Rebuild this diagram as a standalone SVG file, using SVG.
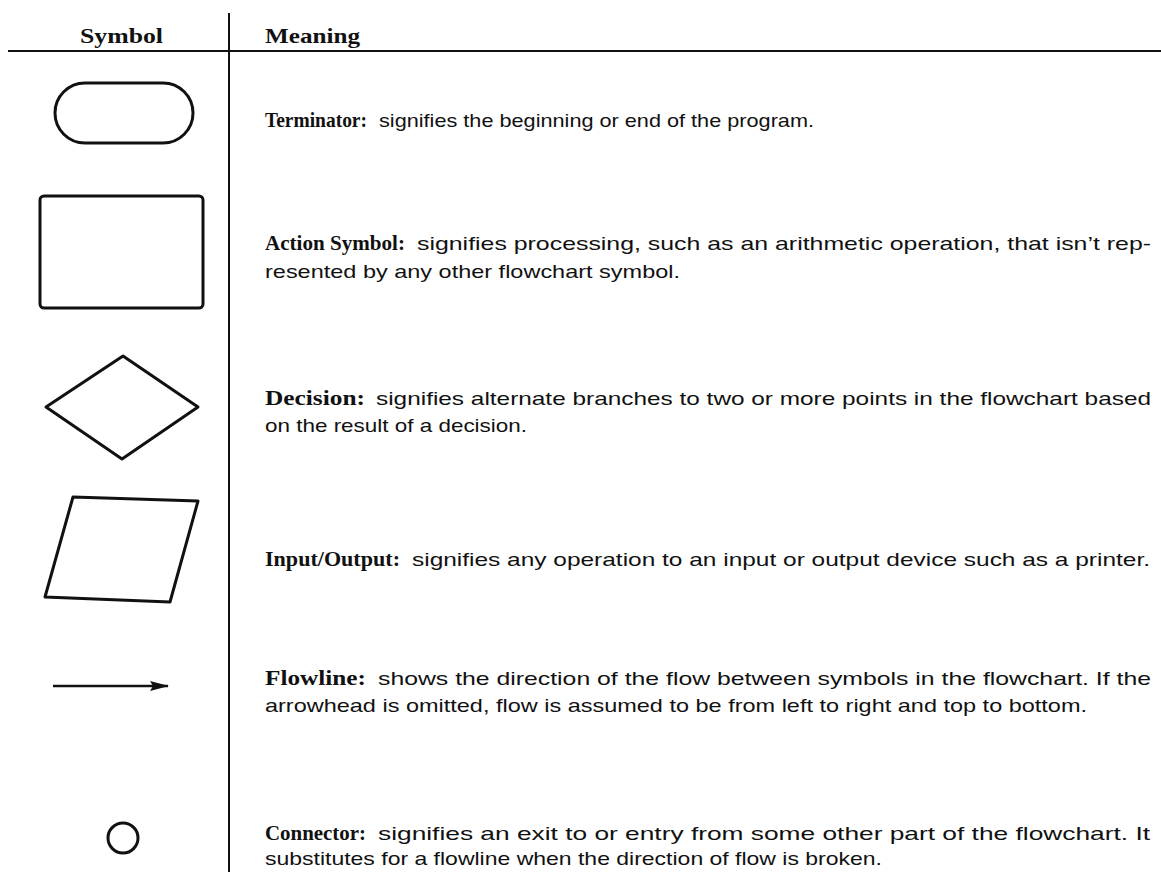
<svg xmlns="http://www.w3.org/2000/svg" width="1161" height="872" viewBox="0 0 1161 872">
  <style>
    .rule { stroke: #111; stroke-width: 2; fill: none; }
    .flow { stroke: #111; stroke-width: 2.5; fill: none; }
    .shape { stroke: #111; stroke-width: 3; fill: none; stroke-linejoin: round; }
    .head { font-family: "Liberation Serif", serif; font-weight: bold; font-size: 22px; fill: #111; }
    .label { font-family: "Liberation Serif", serif; font-weight: bold; font-size: 22px; fill: #111; }
    .body { font-family: "Liberation Sans", Arial, sans-serif; font-size: 19px; fill: #111; }
  </style>
  <defs>
    <marker id="arrowhead" viewBox="0 0 19 11" refX="18" refY="5.5" markerWidth="19" markerHeight="11" markerUnits="userSpaceOnUse" orient="auto">
      <path d="M0,0.5 L19,5.5 L0,10.5 L3,5.5 Z" fill="#111"/>
    </marker>
  </defs>
  <rect width="1161" height="872" fill="#fff"/>

  <!-- table rules and column headings -->
  <g id="table">
    <line class="rule" x1="8" y1="51" x2="1161" y2="51"/>
    <line class="rule" x1="229" y1="13" x2="229" y2="872"/>
    <text class="head" x="80" y="43" textLength="83" lengthAdjust="spacingAndGlyphs">Symbol</text>
    <text class="head" x="265" y="43" textLength="95" lengthAdjust="spacingAndGlyphs">Meaning</text>
  </g>

  <!-- terminator -->
  <g id="terminator">
    <rect class="shape" x="55" y="83" width="138" height="60" rx="30" ry="30"/>
    <text class="label" x="265" y="127" textLength="102" lengthAdjust="spacingAndGlyphs">Terminator:</text>
    <text class="body" x="379" y="127" textLength="435" lengthAdjust="spacingAndGlyphs">signifies the beginning or end of the program.</text>
  </g>

  <!-- action symbol -->
  <g id="action">
    <rect class="shape" x="40" y="196" width="163" height="112" rx="4" ry="4"/>
    <text class="label" x="265" y="250" textLength="140" lengthAdjust="spacingAndGlyphs">Action Symbol:</text>
    <text class="body" x="417" y="250" textLength="734" lengthAdjust="spacingAndGlyphs">signifies processing, such as an arithmetic operation, that isn’t rep-</text>
    <text class="body" x="265" y="278" textLength="415" lengthAdjust="spacingAndGlyphs">resented by any other flowchart symbol.</text>
  </g>

  <!-- decision -->
  <g id="decision">
    <path class="shape" d="M123,356 L198,407 L122,459 L46,407 Z"/>
    <text class="label" x="265" y="405" textLength="100" lengthAdjust="spacingAndGlyphs">Decision:</text>
    <text class="body" x="376" y="405" textLength="775" lengthAdjust="spacingAndGlyphs">signifies alternate branches to two or more points in the flowchart based</text>
    <text class="body" x="265" y="432" textLength="262" lengthAdjust="spacingAndGlyphs">on the result of a decision.</text>
  </g>

  <!-- input / output -->
  <g id="input-output">
    <path class="shape" d="M73,497 L198,501 L170,602 L45,597 Z"/>
    <text class="label" x="265" y="566" textLength="135" lengthAdjust="spacingAndGlyphs">Input/Output:</text>
    <text class="body" x="412" y="566" textLength="738" lengthAdjust="spacingAndGlyphs">signifies any operation to an input or output device such as a printer.</text>
  </g>

  <!-- flowline -->
  <g id="flowline">
    <line class="flow" x1="53" y1="686" x2="168" y2="686" marker-end="url(#arrowhead)"/>
    <text class="label" x="265" y="685" textLength="101" lengthAdjust="spacingAndGlyphs">Flowline:</text>
    <text class="body" x="378" y="685" textLength="773" lengthAdjust="spacingAndGlyphs">shows the direction of the flow between symbols in the flowchart. If the</text>
    <text class="body" x="265" y="712" textLength="822" lengthAdjust="spacingAndGlyphs">arrowhead is omitted, flow is assumed to be from left to right and top to bottom.</text>
  </g>

  <!-- connector -->
  <g id="connector">
    <circle class="shape" cx="123" cy="838" r="15"/>
    <text class="label" x="265" y="840" textLength="101" lengthAdjust="spacingAndGlyphs">Connector:</text>
    <text class="body" x="378" y="840" textLength="772" lengthAdjust="spacingAndGlyphs">signifies an exit to or entry from some other part of the flowchart. It</text>
    <text class="body" x="265" y="865" textLength="617" lengthAdjust="spacingAndGlyphs">substitutes for a flowline when the direction of flow is broken.</text>
  </g>
</svg>
